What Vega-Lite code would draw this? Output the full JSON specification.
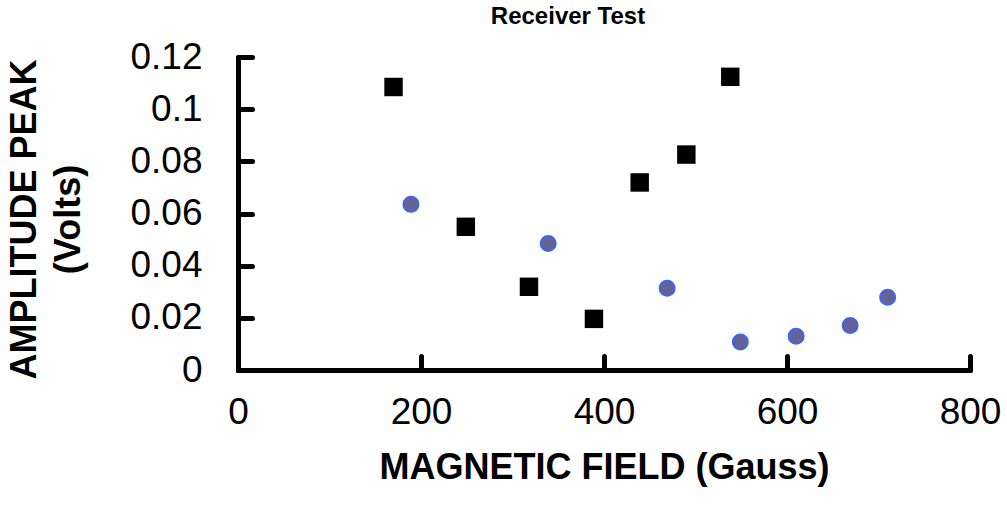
{
  "$schema": "https://vega.github.io/schema/vega-lite/v6.json",
  "autosize": {"type": "none"},
  "width": 732,
  "height": 313,
  "padding": {"left": 238, "top": 57, "right": 37, "bottom": 149},
  "background": "white",
  "title": {
    "text": "Receiver Test",
    "font": "Liberation Sans",
    "fontSize": 24,
    "fontWeight": "bold",
    "anchor": "middle",
    "offset": 9,
    "dx": -36,
    "color": "black"
  },
  "data": {
    "values": [
      {"field": 170, "amp": 0.1085, "series": "Squares"},
      {"field": 249, "amp": 0.0549, "series": "Squares"},
      {"field": 318, "amp": 0.0319, "series": "Squares"},
      {"field": 389, "amp": 0.0196, "series": "Squares"},
      {"field": 439, "amp": 0.0719, "series": "Squares"},
      {"field": 490, "amp": 0.0826, "series": "Squares"},
      {"field": 538, "amp": 0.1124, "series": "Squares"},
      {"field": 189, "amp": 0.0635, "series": "Circles"},
      {"field": 339, "amp": 0.0485, "series": "Circles"},
      {"field": 469, "amp": 0.0313, "series": "Circles"},
      {"field": 549, "amp": 0.0107, "series": "Circles"},
      {"field": 610, "amp": 0.0129, "series": "Circles"},
      {"field": 669, "amp": 0.0171, "series": "Circles"},
      {"field": 710, "amp": 0.0279, "series": "Circles"}
    ]
  },
  "mark": {"type": "point", "filled": true, "opacity": 1},
  "encoding": {
    "x": {
      "field": "field",
      "type": "quantitative",
      "scale": {"domain": [0, 800], "nice": false, "zero": false},
      "axis": {
        "title": "MAGNETIC FIELD (Gauss)",
        "values": [0, 200, 400, 600, 800],
        "labelPadding": 38,
        "titlePadding": 20
      }
    },
    "y": {
      "field": "amp",
      "type": "quantitative",
      "scale": {"domain": [0, 0.12], "nice": false},
      "axis": {
        "title": ["AMPLITUDE PEAK", "(Volts)"],
        "values": [0, 0.02, 0.04, 0.06, 0.08, 0.1, 0.12],
        "labelExpr": "datum.value == 0 ? '0' : format(datum.value, '.2~f')",
        "labelPadding": 50,
        "titlePadding": 42,
        "titleLineHeight": 44,
        "titleY": 162
      }
    },
    "shape": {
      "field": "series",
      "type": "nominal",
      "scale": {"domain": ["Squares", "Circles"], "range": ["square", "circle"]},
      "legend": null
    },
    "fill": {
      "field": "series",
      "type": "nominal",
      "scale": {"domain": ["Squares", "Circles"], "range": ["#000000", "#636399"]},
      "legend": null
    },
    "stroke": {
      "field": "series",
      "type": "nominal",
      "scale": {"domain": ["Squares", "Circles"], "range": ["#000000", "#3366ff"]},
      "legend": null
    },
    "strokeWidth": {
      "field": "series",
      "type": "nominal",
      "scale": {"domain": ["Squares", "Circles"], "range": [0, 1.5]},
      "legend": null
    },
    "size": {
      "field": "series",
      "type": "nominal",
      "scale": {"domain": ["Squares", "Circles"], "range": [340, 240]},
      "legend": null
    }
  },
  "config": {
    "view": {"stroke": null},
    "axis": {
      "grid": false,
      "domainColor": "black",
      "domainWidth": 5,
      "domainCap": "round",
      "tickColor": "black",
      "tickWidth": 5,
      "tickCap": "round",
      "tickSize": -14,
      "labelFont": "Liberation Sans",
      "labelFontSize": 37,
      "labelColor": "black",
      "labelFlush": false,
      "labelOverlap": false,
      "titleFont": "Liberation Sans",
      "titleFontSize": 36,
      "titleFontWeight": "bold",
      "titleColor": "black"
    }
  }
}
